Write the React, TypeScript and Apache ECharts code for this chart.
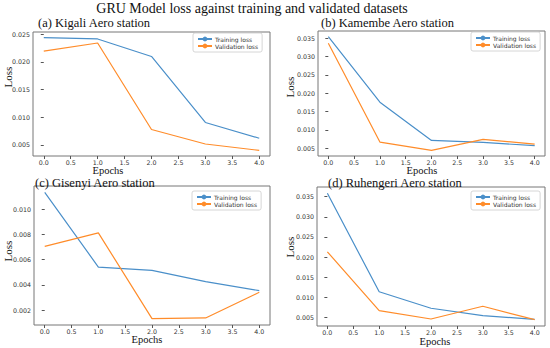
import React, { useEffect, useRef } from "react";
import * as echarts from "echarts";

const epochs = [0, 1, 2, 3, 4];
const xTicks = [0, 0.5, 1, 1.5, 2, 2.5, 3, 3.5, 4];

const kigaliTrain = [0.02439, 0.02415, 0.02099, 0.00907, 0.00622];
const kigaliVal = [0.02196, 0.02342, 0.0078, 0.00518, 0.00403];
const kigaliTicks = [0.005, 0.01, 0.015, 0.02, 0.025];

const kamembeTrain = [0.03536, 0.01753, 0.00713, 0.0066, 0.0057];
const kamembeVal = [0.03357, 0.00668, 0.00444, 0.0074, 0.00615];
const kamembeTicks = [0.005, 0.01, 0.015, 0.02, 0.025, 0.03, 0.035];

const gisenyiTrain = [0.01134, 0.00542, 0.00516, 0.00427, 0.00355];
const gisenyiVal = [0.00706, 0.00813, 0.00133, 0.00139, 0.00342];
const gisenyiTicks = [0.002, 0.004, 0.006, 0.008, 0.01];

const ruhengeriTrain = [0.03583, 0.01142, 0.00733, 0.0055, 0.00458];
const ruhengeriVal = [0.02133, 0.00675, 0.00467, 0.00783, 0.0045];
const ruhengeriTicks = [0.005, 0.01, 0.015, 0.02, 0.025, 0.03, 0.035];

const mainTitle = "GRU Model loss against training and validated datasets";
const panelTitles = [
  "(a) Kigali Aero station",
  "(b) Kamembe Aero station",
  "(c) Gisenyi Aero station",
  "(d) Ruhengeri Aero station",
];
const seriesNames = ["Training loss", "Validation loss"];

const SERIF = "'Liberation Serif', 'DejaVu Serif', serif";
const SANS = "'DejaVu Sans', sans-serif";
const BLUE = "#4a8fc9";
const ORANGE = "#ff8c2a";

export default function App() {
  const ref = useRef<HTMLDivElement>(null);
  useEffect(() => {
    if (!ref.current) return;
    const chart = echarts.init(ref.current, null, { renderer: "svg" });

    const panels = [
      { train: kigaliTrain, val: kigaliVal, ticks: kigaliTicks, grid: { left: 33, top: 32, width: 237, height: 124 } },
      { train: kamembeTrain, val: kamembeVal, ticks: kamembeTicks, grid: { left: 318, top: 31, width: 227, height: 125 } },
      { train: gisenyiTrain, val: gisenyiVal, ticks: gisenyiTicks, grid: { left: 34, top: 186, width: 236, height: 139 } },
      { train: ruhengeriTrain, val: ruhengeriVal, ticks: ruhengeriTicks, grid: { left: 317, top: 187, width: 228, height: 139 } },
    ];
    const legendPos = [
      { left: 193, top: 33 },
      { left: 471, top: 32 },
      { left: 192, top: 191 },
      { left: 471, top: 191 },
    ];
    const titlePos = [
      { left: 38, top: 16 },
      { left: 321, top: 16 },
      { left: 35, top: 176 },
      { left: 328, top: 176 },
    ];
    const lossPos = [
      { x: 8, y: 77 },
      { x: 290, y: 87 },
      { x: 8, y: 251 },
      { x: 290, y: 247 },
    ];
    const epochPos = [
      { x: 108, y: 170 },
      { x: 422, y: 170 },
      { x: 147, y: 339 },
      { x: 435, y: 341 },
    ];

    const grids: any[] = [];
    const xAxes: any[] = [];
    const yAxes: any[] = [];
    const series: any[] = [];
    const legends: any[] = [];
    const titles: any[] = [
      {
        text: mainTitle,
        left: 252,
        top: 1,
        padding: 0,
        textAlign: "center",
        textStyle: { fontFamily: SERIF, fontSize: 14, fontWeight: "normal", color: "#111" },
      },
    ];
    const graphics: any[] = [];

    panels.forEach((p, i) => {
      const all = [...p.train, ...p.val];
      const lo = Math.min(...all);
      const hi = Math.max(...all);
      const m = (hi - lo) * 0.05;
      grids.push({
        ...p.grid,
        show: true,
        borderColor: "#777",
        borderWidth: 1,
        backgroundColor: "transparent",
      });
      xAxes.push({
        type: "value",
        gridIndex: i,
        min: -0.2,
        max: 4.2,
        axisLine: { show: false },
        splitLine: { show: false },
        axisTick: { show: true, length: 3, customValues: xTicks, lineStyle: { color: "#555" } },
        axisLabel: {
          customValues: xTicks,
          formatter: (v: number) => v.toFixed(1),
          fontFamily: SANS,
          fontSize: 6.3,
          color: "#333",
          margin: 3,
        },
      });
      yAxes.push({
        type: "value",
        gridIndex: i,
        min: lo - m,
        max: hi + m,
        axisLine: { show: false },
        splitLine: { show: false },
        axisTick: { show: true, length: 3, customValues: p.ticks, lineStyle: { color: "#555" } },
        axisLabel: {
          customValues: p.ticks,
          formatter: (v: number) => v.toFixed(3),
          fontFamily: SANS,
          fontSize: 6.3,
          color: "#333",
          margin: 3,
        },
      });
      series.push({
        name: seriesNames[0],
        type: "line",
        xAxisIndex: i,
        yAxisIndex: i,
        data: epochs.map((e, k) => [e, p.train[k]]),
        symbol: "none",
        lineStyle: { color: BLUE, width: 1.2 },
        itemStyle: { color: BLUE },
      });
      series.push({
        name: seriesNames[1],
        type: "line",
        xAxisIndex: i,
        yAxisIndex: i,
        data: epochs.map((e, k) => [e, p.val[k]]),
        symbol: "none",
        lineStyle: { color: ORANGE, width: 1.2 },
        itemStyle: { color: ORANGE },
      });
      legends.push({
        ...legendPos[i],
        orient: "vertical",
        data: seriesNames,
        itemWidth: 14,
        itemHeight: 6,
        itemGap: 1,
        padding: [3, 4, 3, 4],
        borderColor: "#ccc",
        borderWidth: 0.8,
        borderRadius: 2,
        backgroundColor: "#fff",
        textStyle: { fontFamily: SANS, fontSize: 6, color: "#333", padding: [0, 0, 0, -2] },
      });
      titles.push({
        text: panelTitles[i],
        ...titlePos[i],
        padding: 0,
        textStyle: { fontFamily: SERIF, fontSize: 12.5, fontWeight: "normal", color: "#111" },
      });
      graphics.push({
        type: "text",
        x: lossPos[i].x,
        y: lossPos[i].y,
        rotation: Math.PI / 2,
        style: {
          text: "Loss",
          fontFamily: SERIF,
          fontSize: 11,
          fill: "#111",
          textAlign: "center",
          textVerticalAlign: "middle",
        },
      });
      graphics.push({
        type: "text",
        x: epochPos[i].x,
        y: epochPos[i].y,
        style: {
          text: "Epochs",
          fontFamily: SERIF,
          fontSize: 10.5,
          fill: "#111",
          textAlign: "center",
          textVerticalAlign: "middle",
        },
      });
    });

    chart.setOption({
      animation: false,
      backgroundColor: "#fff",
      title: titles,
      grid: grids,
      xAxis: xAxes,
      yAxis: yAxes,
      series,
      legend: legends,
      graphic: graphics,
    });
    return () => chart.dispose();
  }, []);
  return <div ref={ref} style={{ width: 550, height: 348, position: "absolute", left: 0, top: 0 }} />;
}
